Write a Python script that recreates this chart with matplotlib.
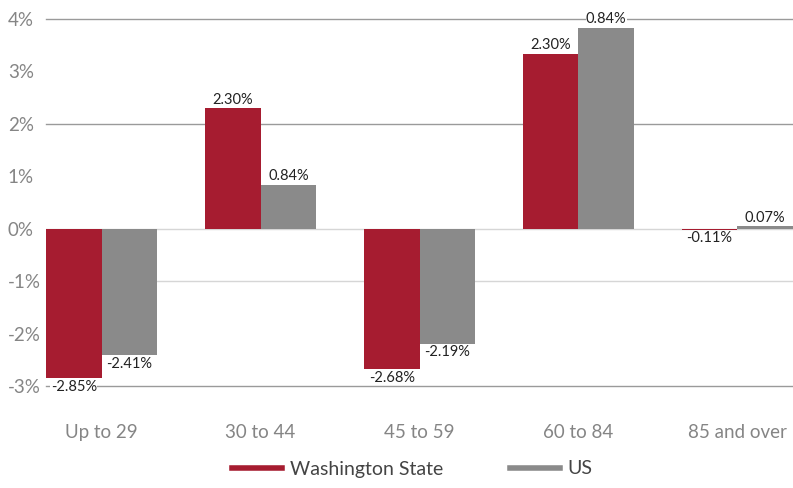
import numpy as np
import matplotlib
matplotlib.use("Agg")
import matplotlib.pyplot as plt
from matplotlib.lines import Line2D

plt.rcParams['font.family'] = ['Lato', 'DejaVu Sans']

categories = ['Up to 29', '30 to 44', '45 to 59', '60 to 84', '85 and over']
wa_values = [-2.85, 2.30, -2.68, 3.34, -0.02]
us_values = [-2.41, 0.84, -2.19, 3.83, 0.05]
wa_labels = ['-2.85%', '2.30%', '-2.68%', '2.30%', '-0.11%']
us_labels = ['-2.41%', '0.84%', '-2.19%', '0.84%', '0.07%']
yticks = [-3, -2, -1, 0, 1, 2, 3, 4]
grid_dark = [4, 2, -3]
grid_light = [0, -1]

red = '#A61C30'
grey = '#8A8A8A'

fig = plt.figure(figsize=(7.93, 4.88), dpi=100)
ax = fig.add_axes([46 / 793, 1 - 386 / 488, 1 - 46 / 793, (386 - 19) / 488])

x = np.arange(len(categories))
w = 0.35

for g in grid_dark:
    ax.axhline(g, color='#9a9a9a', lw=1.0, zorder=0, clip_on=False)
for g in grid_light:
    ax.axhline(g, color='#d6d6d6', lw=1.0, zorder=0)

ax.bar(x - w / 2, wa_values, w, color=red, edgecolor='none', zorder=2)
ax.bar(x + w / 2, us_values, w, color=grey, edgecolor='none', zorder=2)

box = dict(facecolor='white', edgecolor='none', pad=0.3)
for xs, vals, labs in [(x - w / 2, wa_values, wa_labels), (x + w / 2, us_values, us_labels)]:
    for xi, v, lab in zip(xs, vals, labs):
        if v >= 0:
            ax.text(xi, v + 0.03, lab, ha='center', va='bottom', fontsize=10.5,
                    color='#222222', bbox=box, zorder=3, clip_on=False)
        else:
            ax.text(xi, v - 0.03, lab, ha='center', va='top', fontsize=10.5,
                    color='#222222', bbox=box, zorder=3, clip_on=False)

ax.set_xlim(-w, len(categories) - 1 + w)
ax.set_ylim(-3, 4)
ax.set_yticks(yticks)
ax.set_yticklabels([f'{t}%' for t in yticks], ha='left')
ax.set_xticks(x)
ax.set_xticklabels(categories)
ax.tick_params(axis='both', length=0, labelsize=13.5, labelcolor='#858585')
ax.tick_params(axis='x', pad=27.5)
ax.tick_params(axis='y', pad=27.5)
for s in ax.spines.values():
    s.set_visible(False)

handles = [Line2D([], [], color=red, lw=4), Line2D([], [], color=grey, lw=4)]
fig.legend(handles, ['Washington State', 'US'], loc='center', bbox_to_anchor=(0.52, 1 - 469 / 488),
           ncol=2, frameon=False, fontsize=14, handlelength=2.6, columnspacing=3.4,
           handletextpad=0.4, labelcolor='#444444')

fig.savefig('out.png', dpi=100)
